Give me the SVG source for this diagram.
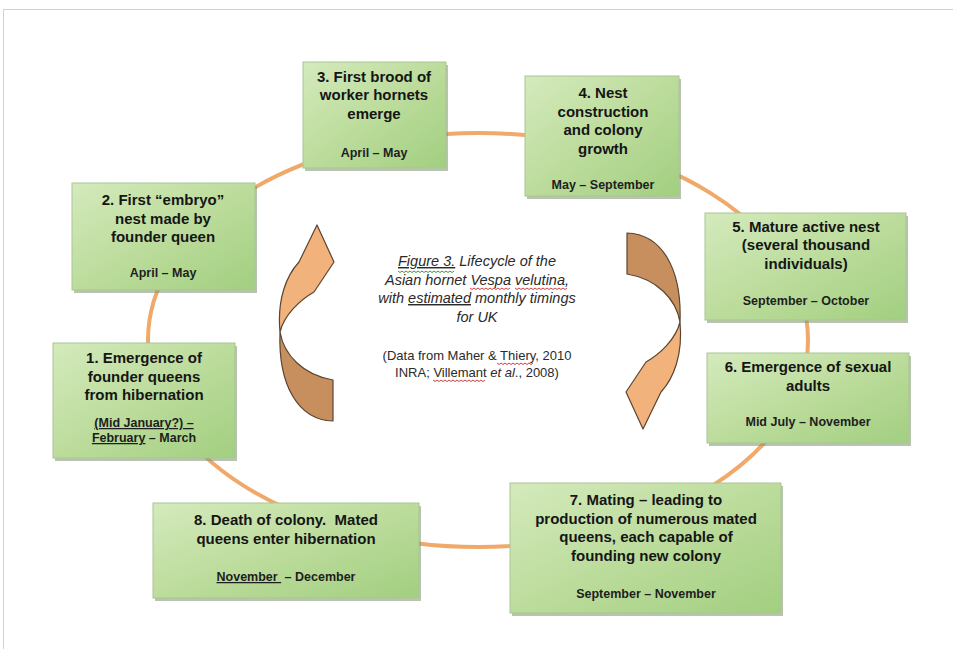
<svg xmlns="http://www.w3.org/2000/svg" xmlns:xlink="http://www.w3.org/1999/xlink" width="953" height="649" viewBox="0 0 953 649">
<style>
.box{fill:url(#g);stroke:#a9c594;stroke-width:1}
.sh{fill:#7d9470;opacity:.55}
.t{font-family:"Liberation Sans",Arial,sans-serif;font-weight:bold;font-size:15px;fill:#151515;text-anchor:middle}
.d{font-family:"Liberation Sans",Arial,sans-serif;font-weight:bold;font-size:12.5px;fill:#1e1e1e;text-anchor:middle}
.c{font-family:"Liberation Sans",Arial,sans-serif;font-style:italic;font-size:14.5px;fill:#2a2a2a;text-anchor:middle}
.r{font-family:"Liberation Sans",Arial,sans-serif;font-size:13px;fill:#2a2a2a;text-anchor:middle}
.ring{fill:none;stroke:#f0a96a;stroke-width:4}
.lt{fill:#f2b27c;stroke:#5a4430;stroke-width:1.2;stroke-linejoin:round}
.dk{fill:#c78f5e;stroke:#5a4430;stroke-width:1.2;stroke-linejoin:round}
.wv{fill:none;stroke:#d04040;stroke-width:1}
.wg{fill:none;stroke:#3c9a3c;stroke-width:1}
</style>
<defs>
<linearGradient id="g" x1="0" y1="0" x2="1" y2="1">
<stop offset="0" stop-color="#d4eabc"/>
<stop offset="0.5" stop-color="#bcdc9c"/>
<stop offset="1" stop-color="#a2cf80"/>
</linearGradient>
<g id="arrow">
<path class="dk" d="M280 332 C284 355 303 375 333 380 L333 421 C298 420 278 385 280 332 Z"/>
<path class="lt" d="M280 332 C277 300 286 276 299 262 L317 225 L334 262 L314 292 C300 300 284 315 280 332 Z"/>
</g>
</defs>
<rect x="0" y="0" width="953" height="649" fill="#ffffff"/>
<rect x="3.5" y="9.5" width="970" height="660" fill="none" stroke="#cdd3da" stroke-width="1"/>

<g id="connectors">
<ellipse class="ring" cx="478" cy="340" rx="330" ry="207"/>
</g>

<g id="curved-arrows">
<use xlink:href="#arrow"/>
<use xlink:href="#arrow" transform="rotate(180 480 327)"/>
</g>

<g id="caption">
<text class="c" x="477" y="266"><tspan text-decoration="underline">Figure 3.</tspan> Lifecycle of the</text>
<text class="c" x="477" y="285">Asian hornet Vespa velutina,</text>
<text class="c" x="477" y="303">with <tspan text-decoration="underline">estimated</tspan> monthly timings</text>
<text class="c" x="477" y="322">for UK</text>
<text class="r" x="477" y="360">(Data from Maher &amp; Thiery, 2010</text>
<text class="r" x="477" y="377">INRA; Villemant <tspan font-style="italic">et al</tspan>., 2008)</text>
<path class="wg" d="M398 271 l2 1.5 l2 -1.5 l2 1.5 l2 -1.5 l2 1.5 l2 -1.5 l2 1.5 l2 -1.5 l2 1.5 l2 -1.5 l2 1.5 l2 -1.5 l2 1.5 l2 -1.5 l2 1.5 l2 -1.5 l2 1.5 l2 -1.5 l2 1.5 l2 -1.5 l2 1.5 l2 -1.5 l2 1.5 l2 -1.5 l2 1.5 l2 -1.5 l2 1.5 l2 -1.5"/>
<path class="wv" d="M470 288 l2 1.5 l2 -1.5 l2 1.5 l2 -1.5 l2 1.5 l2 -1.5 l2 1.5 l2 -1.5 l2 1.5 l2 -1.5 l2 1.5 l2 -1.5 l2 1.5 l2 -1.5 l2 1.5 l2 -1.5 l2 1.5 l2 -1.5 l2 1.5 l2 -1.5"/>
<path class="wv" d="M515 288 l2 1.5 l2 -1.5 l2 1.5 l2 -1.5 l2 1.5 l2 -1.5 l2 1.5 l2 -1.5 l2 1.5 l2 -1.5 l2 1.5 l2 -1.5 l2 1.5 l2 -1.5 l2 1.5 l2 -1.5 l2 1.5 l2 -1.5 l2 1.5 l2 -1.5 l2 1.5 l2 -1.5 l2 1.5 l2 -1.5 l2 1.5 l2 -1.5"/>
<path class="wv" d="M497 363 l2 1.5 l2 -1.5 l2 1.5 l2 -1.5 l2 1.5 l2 -1.5 l2 1.5 l2 -1.5 l2 1.5 l2 -1.5 l2 1.5 l2 -1.5 l2 1.5 l2 -1.5 l2 1.5 l2 -1.5 l2 1.5 l2 -1.5"/>
<path class="wv" d="M433 380 l2 1.5 l2 -1.5 l2 1.5 l2 -1.5 l2 1.5 l2 -1.5 l2 1.5 l2 -1.5 l2 1.5 l2 -1.5 l2 1.5 l2 -1.5 l2 1.5 l2 -1.5 l2 1.5 l2 -1.5 l2 1.5 l2 -1.5 l2 1.5 l2 -1.5 l2 1.5 l2 -1.5 l2 1.5 l2 -1.5 l2 1.5 l2 -1.5"/>
</g>

<g id="n1">
<rect class="sh" x="55" y="346" width="182" height="115"/>
<rect class="box" x="53" y="343" width="182" height="115"/>
<text class="t" x="144" y="363">1. Emergence of</text>
<text class="t" x="144" y="382">founder queens</text>
<text class="t" x="144" y="400">from hibernation</text>
<text class="d" x="144" y="427" text-decoration="underline">(Mid January?) –</text>
<text class="d" x="144" y="442"><tspan text-decoration="underline">February</tspan> – March</text>
</g>

<g id="n2">
<rect class="sh" x="74" y="186" width="183" height="107"/>
<rect class="box" x="72" y="183" width="183" height="107"/>
<text class="t" x="163" y="205">2. First “embryo”</text>
<text class="t" x="163" y="224">nest made by</text>
<text class="t" x="163" y="242">founder queen</text>
<text class="d" x="163" y="277">April – May</text>
</g>

<g id="n3">
<rect class="sh" x="305" y="65" width="143" height="106"/>
<rect class="box" x="303" y="62" width="143" height="106"/>
<text class="t" x="374" y="82">3. First brood of</text>
<text class="t" x="374" y="100">worker hornets</text>
<text class="t" x="374" y="119">emerge</text>
<text class="d" x="374" y="157">April – May</text>
</g>

<g id="n4">
<rect class="sh" x="527" y="79" width="154" height="120"/>
<rect class="box" x="525" y="76" width="154" height="120"/>
<text class="t" x="603" y="98">4. Nest</text>
<text class="t" x="603" y="117">construction</text>
<text class="t" x="603" y="135">and colony</text>
<text class="t" x="603" y="154">growth</text>
<text class="d" x="603" y="189">May – September</text>
</g>

<g id="n5">
<rect class="sh" x="707" y="216" width="201" height="107"/>
<rect class="box" x="705" y="213" width="201" height="107"/>
<text class="t" x="806" y="232">5. Mature active nest</text>
<text class="t" x="806" y="250">(several thousand</text>
<text class="t" x="806" y="269">individuals)</text>
<text class="d" x="806" y="305">September – October</text>
</g>

<g id="n6">
<rect class="sh" x="709" y="356" width="202" height="90"/>
<rect class="box" x="707" y="353" width="202" height="90"/>
<text class="t" x="808" y="372">6. Emergence of sexual</text>
<text class="t" x="808" y="391">adults</text>
<text class="d" x="808" y="426">Mid July – November</text>
</g>

<g id="n7">
<rect class="sh" x="512" y="486" width="271" height="130"/>
<rect class="box" x="510" y="483" width="271" height="130"/>
<text class="t" x="646" y="505">7.  Mating – leading to</text>
<text class="t" x="646" y="524">production of numerous mated</text>
<text class="t" x="646" y="542">queens, each capable of</text>
<text class="t" x="646" y="561">founding new colony</text>
<text class="d" x="646" y="598">September – November</text>
</g>

<g id="n8">
<rect class="sh" x="155" y="506" width="266" height="95"/>
<rect class="box" x="153" y="503" width="266" height="95"/>
<text class="t" x="286" y="525" xml:space="preserve">8. Death of colony.  Mated</text>
<text class="t" x="286" y="544">queens enter hibernation</text>
<text class="d" x="286" y="581" xml:space="preserve"><tspan text-decoration="underline">November </tspan> – December</text>
</g>
</svg>
